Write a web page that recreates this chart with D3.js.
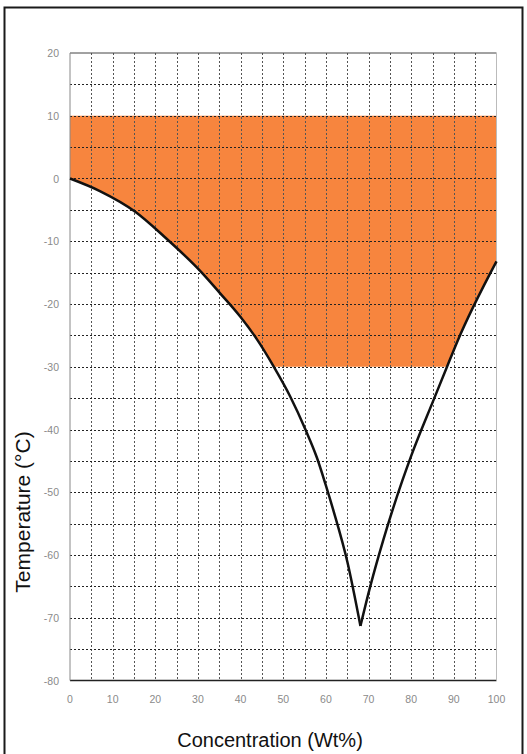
<!DOCTYPE html>
<html>
<head>
<meta charset="utf-8">
<script src="https://d3js.org/d3.v7.min.js"></script>
<style>
  body { margin: 0; background: #fff; }
  text { font-family: "Liberation Sans", Arial, sans-serif; }
</style>
</head>
<body>
<svg width="527" height="754"></svg>
<script>

// concentration (wt%) vs freezing temperature (°C)
var leftBranch = [[0, 0], [7, -2.0], [15.3, -5.3], [22, -9.2], [30.9, -15.0], [35.2, -18.3],
    [39.9, -22.0], [43.8, -25.6], [47.7, -29.9], [51.6, -34.7], [55.2, -40], [57.9, -44.5],
    [59.9, -48.7], [61.8, -53.0], [65, -61.0], [68.1, -71.3]];
var rightBranch = [[68.1, -71.3], [70.4, -65], [73.5, -57.5], [77.9, -48.2], [80, -44.2],
    [85.3, -35.2], [88.4, -30], [90.8, -26], [100, -13.2]];

// shaded band
var bandTop = 10,
    bandBottom = -30;

var xLabels = [0, 10, 20, 30, 40, 50, 60, 70, 80, 90, 100];
var yLabels = [20, 10, 0, -10, -20, -30, -40, -50, -60, -70, -80];

var svg = d3.select("svg");

var x = d3.scaleLinear().domain([0, 100]).range([70, 496.5]),
    y = d3.scaleLinear().domain([-80, 20]).range([680.5, 53]);

// outer frame
svg.append("rect")
    .attr("x", 4.5).attr("y", 7.5)
    .attr("width", 518).attr("height", 780)
    .attr("fill", "none")
    .attr("stroke", "#1a1a1a")
    .attr("stroke-width", 2);

// clip: everything above the freezing curve
var clip = svg.append("clipPath").attr("id", "above");
var above = d3.area()
    .x(function(d) { return x(d[0]); })
    .y0(function(d) { return y(d[1]); })
    .y1(y(20))
    .curve(d3.curveMonotoneX);
clip.append("path").attr("d", above(leftBranch));
clip.append("path").attr("d", above(rightBranch));

svg.append("rect")
    .attr("x", x(0))
    .attr("y", y(bandTop))
    .attr("width", x(100) - x(0))
    .attr("height", y(bandBottom) - y(bandTop))
    .attr("fill", "#f7853e")
    .attr("clip-path", "url(#above)");

// grid
var grid = svg.append("g");
grid.selectAll(".gx")
  .data(d3.range(5, 100, 5))
  .enter().append("line")
    .attr("x1", function(d) { return Math.round(x(d)) + 0.5; })
    .attr("x2", function(d) { return Math.round(x(d)) + 0.5; })
    .attr("y1", y(20)).attr("y2", y(-80))
    .attr("stroke", "#555")
    .attr("stroke-dasharray", "2,2");
grid.selectAll(".gy")
  .data(d3.range(-75, 20, 5))
  .enter().append("line")
    .attr("y1", function(d) { return Math.round(y(d)) + 0.5; })
    .attr("y2", function(d) { return Math.round(y(d)) + 0.5; })
    .attr("x1", x(0)).attr("x2", x(100))
    .attr("stroke", "#222")
    .attr("stroke-dasharray", "2,2");

// plot border
svg.append("line").attr("x1", x(0)).attr("x2", x(100)).attr("y1", y(20)).attr("y2", y(20))
    .attr("stroke", "#444");
svg.append("line").attr("x1", x(0)).attr("x2", x(100)).attr("y1", y(-80)).attr("y2", y(-80))
    .attr("stroke", "#222").attr("stroke-width", 1.5);
svg.append("line").attr("x1", x(0)).attr("x2", x(0)).attr("y1", y(20)).attr("y2", y(-80))
    .attr("stroke", "#888");
svg.append("line").attr("x1", x(100)).attr("x2", x(100)).attr("y1", y(20)).attr("y2", y(-80))
    .attr("stroke", "#bbb");

// curve
var line = d3.line()
    .x(function(d) { return x(d[0]); })
    .y(function(d) { return y(d[1]); })
    .curve(d3.curveMonotoneX);
[leftBranch, rightBranch].forEach(function(b) {
  svg.append("path")
      .attr("d", line(b))
      .attr("fill", "none")
      .attr("stroke", "#111")
      .attr("stroke-width", 2.5)
      .attr("stroke-linejoin", "miter");
});

// tick labels
svg.selectAll(".xl")
  .data(xLabels)
  .enter().append("text")
    .attr("x", function(d) { return x(d); })
    .attr("y", 703)
    .attr("text-anchor", "middle")
    .attr("font-size", 10.5)
    .attr("fill", "#8a8a8a")
    .text(function(d) { return d; });

svg.selectAll(".yl")
  .data(yLabels)
  .enter().append("text")
    .attr("x", 59)
    .attr("y", function(d) { return y(d) + 4; })
    .attr("text-anchor", "end")
    .attr("font-size", 10.5)
    .attr("fill", "#8a8a8a")
    .text(function(d) { return d; });

// axis titles
svg.append("text")
    .attr("x", 270).attr("y", 747)
    .attr("text-anchor", "middle")
    .attr("font-size", 20)
    .attr("fill", "#111")
    .text("Concentration (Wt%)");

svg.append("text")
    .attr("transform", "translate(30,512) rotate(-90)")
    .attr("text-anchor", "middle")
    .attr("font-size", 21)
    .attr("fill", "#111")
    .text("Temperature (°C)");

</script>
</body>
</html>
